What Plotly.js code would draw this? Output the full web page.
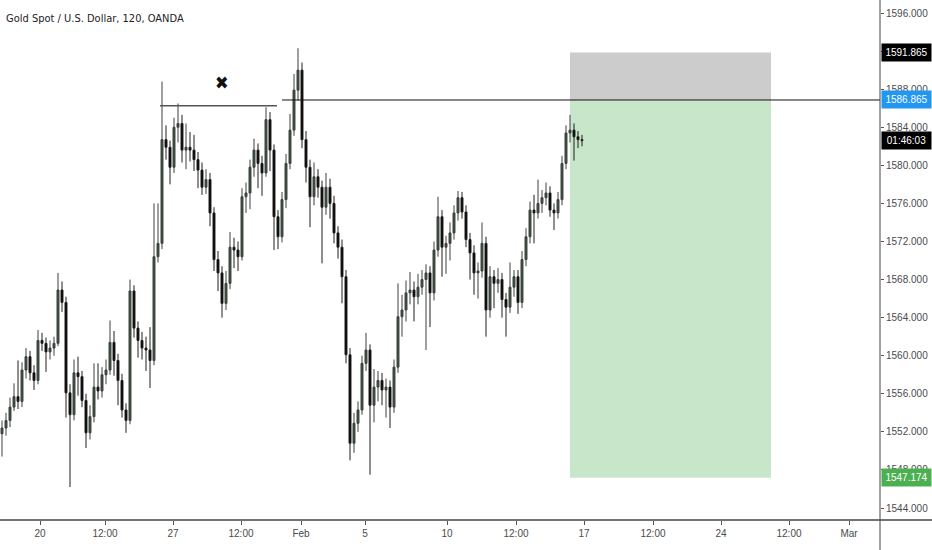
<!DOCTYPE html>
<html>
<head>
<meta charset="utf-8">
<script src="https://cdn.plot.ly/plotly-3.0.1.min.js"></script>
<style>
  body { margin: 0; background: #fff; }
  #chart { width: 932px; height: 550px; }
</style>
</head>
<body>
<div id="chart"></div>
<script>
// XAUUSD 120 min bars (one entry every ~4px)
var opens = [1551.8,1552.4,1553.2,1554.6,1555.7,1555.2,1558.5,1559.9,1558.2,1557.4,
  1561.6,1561.3,1560.4,1560.8,1561.3,1566.9,1565.6,1556.1,1553.8,1558.2,
  1557.8,1555.3,1551.9,1553.6,1556.7,1556.3,1558.0,1558.5,1561.4,1559.5,
  1557.4,1554.3,1553.2,1566.8,1562.9,1561.6,1560.8,1560.6,1559.5,1570.4,
  1571.8,1582.7,1581.9,1579.8,1584.0,1584.4,1581.6,1581.9,1581.6,1580.6,
  1579.5,1577.7,1578.5,1575.0,1570.1,1568.7,1565.5,1567.6,1571.4,1571.1,
  1570.4,1576.7,1577.1,1579.8,1581.6,1580.2,1579.2,1584.8,1581.6,1574.6,
  1572.5,1576.4,1580.2,1583.7,1587.9,1590.0,1582.7,1579.8,1576.7,1578.8,
  1577.7,1575.6,1577.7,1576.0,1572.9,1571.4,1568.3,1560.1,1550.8,1552.9,
  1554.3,1559.2,1560.6,1554.8,1556.7,1557.4,1556.4,1556.7,1554.6,1558.8,
  1564.1,1564.8,1566.6,1566.9,1566.2,1567.2,1568.0,1568.7,1566.6,1571.1,
  1574.6,1571.4,1571.8,1572.9,1575.0,1576.6,1575.1,1572.2,1570.8,1568.7,
  1568.9,1571.8,1564.8,1568.3,1567.6,1568.0,1565.9,1565.1,1567.2,1568.3,
  1565.6,1570.1,1572.5,1575.3,1575.0,1576.0,1576.6,1577.1,1575.3,1575.0,
  1576.4,1580.2,1583.4,1583.7,1583.0,1582.7];
var highs = [1553.2,1554.0,1555.6,1557.1,1559.5,1559.3,1560.8,1560.5,1559.0,1562.7,
  1562.4,1561.9,1561.6,1562.0,1568.7,1567.8,1566.2,1557.0,1559.6,1559.9,
  1558.4,1556.0,1554.8,1559.2,1559.2,1558.8,1559.6,1563.7,1562.6,1560.2,
  1558.1,1555.0,1568.0,1567.4,1563.6,1562.5,1562.0,1563.0,1576.0,1576.0,
  1588.8,1584.2,1582.6,1585.0,1586.5,1585.3,1584.4,1583.5,1583.2,1581.4,
  1580.3,1579.6,1579.2,1575.6,1571.0,1569.4,1568.9,1573.0,1572.4,1572.0,
  1577.6,1578.2,1580.6,1582.8,1582.3,1581.0,1586.1,1585.6,1582.2,1575.3,
  1577.2,1581.2,1585.4,1589.6,1592.3,1590.8,1583.6,1580.6,1580.3,1579.6,
  1578.4,1579.2,1578.6,1576.8,1573.6,1572.2,1569.0,1560.8,1554.0,1555.2,
  1560.0,1562.4,1561.2,1558.6,1558.4,1558.2,1557.6,1557.4,1559.6,1567.6,
  1566.4,1567.9,1568.8,1567.8,1568.6,1569.0,1569.6,1569.4,1572.0,1576.7,
  1575.3,1572.6,1574.0,1575.8,1577.3,1577.2,1575.8,1572.9,1571.6,1569.8,
  1574.0,1572.5,1569.4,1569.0,1569.2,1568.7,1566.6,1569.8,1569.0,1569.0,
  1571.0,1573.4,1576.2,1576.9,1578.5,1577.4,1578.2,1577.8,1576.0,1577.2,
  1581.0,1584.2,1585.3,1584.4,1583.6,1583.2];
var lows = [1549.4,1551.6,1552.5,1554.2,1554.4,1554.6,1557.6,1557.4,1556.4,1557.0,
  1560.5,1558.3,1559.6,1560.0,1561.0,1564.6,1553.5,1546.2,1553.2,1555.8,
  1554.6,1550.3,1551.2,1553.0,1555.4,1555.6,1557.0,1558.0,1557.9,1554.8,
  1553.5,1551.9,1552.8,1561.9,1559.8,1559.6,1558.4,1556.6,1559.0,1569.8,
  1571.2,1580.6,1578.0,1579.2,1582.4,1580.3,1579.6,1580.4,1579.4,1577.6,
  1576.9,1577.0,1573.6,1568.9,1566.8,1564.0,1564.8,1567.0,1569.2,1568.9,
  1570.0,1575.0,1575.4,1578.8,1577.6,1576.8,1578.8,1579.4,1571.1,1571.2,
  1571.9,1575.5,1579.6,1583.1,1586.8,1581.8,1578.2,1573.5,1575.8,1576.6,
  1569.7,1574.8,1574.4,1571.8,1570.2,1565.5,1559.2,1549.0,1549.8,1552.0,
  1553.8,1558.4,1547.5,1553.0,1555.2,1554.8,1553.5,1552.4,1554.0,1558.2,
  1562.0,1563.6,1565.4,1563.6,1565.4,1566.4,1560.6,1563.0,1565.8,1570.4,
  1568.3,1568.6,1570.0,1572.2,1574.2,1574.4,1571.4,1568.0,1566.4,1566.0,
  1568.2,1562.0,1564.0,1565.0,1566.6,1564.0,1562.0,1564.5,1566.2,1564.4,
  1565.0,1569.4,1571.8,1571.8,1574.4,1575.0,1575.8,1574.6,1573.2,1574.4,
  1575.8,1579.6,1582.4,1580.5,1581.8,1582.0];
var closes = [1552.4,1553.2,1554.6,1555.7,1555.2,1558.5,1559.9,1558.2,1557.4,1561.6,
  1561.3,1560.4,1560.8,1561.3,1566.9,1565.6,1556.1,1553.8,1558.2,1557.8,
  1555.3,1551.9,1553.6,1556.7,1556.3,1558.0,1558.5,1561.4,1559.5,1557.4,
  1554.3,1553.2,1566.8,1562.9,1561.6,1560.8,1560.6,1559.5,1570.4,1571.8,
  1582.7,1581.9,1579.8,1584.0,1584.4,1581.6,1581.9,1581.6,1580.6,1579.5,
  1577.7,1578.5,1575.0,1570.1,1568.7,1565.5,1567.6,1571.4,1571.1,1570.4,
  1576.7,1577.1,1579.8,1581.6,1580.2,1579.2,1584.8,1581.6,1574.6,1572.5,
  1576.4,1580.2,1583.7,1587.9,1590.0,1582.7,1579.8,1576.7,1578.8,1577.7,
  1575.6,1577.7,1576.0,1572.9,1571.4,1568.3,1560.1,1550.8,1552.9,1554.3,
  1559.2,1560.6,1554.8,1556.7,1557.4,1556.4,1556.7,1554.6,1558.8,1564.1,
  1564.8,1566.6,1566.9,1566.2,1567.2,1568.0,1568.7,1566.6,1571.1,1574.6,
  1571.4,1571.8,1572.9,1575.0,1576.6,1575.1,1572.2,1570.8,1568.7,1568.9,
  1571.8,1564.8,1568.3,1567.6,1568.0,1565.9,1565.1,1567.2,1568.3,1565.6,
  1570.1,1572.5,1575.3,1575.0,1576.0,1576.6,1577.1,1575.3,1575.0,1576.4,
  1580.2,1583.4,1583.7,1583.0,1582.7,1582.6];

// time axis labels (bar index where each label sits)
var tickText = ['20','12:00','27','12:00','Feb','5','10','12:00','17','12:00','24','12:00','Mar'];
var tickIdx = [9.5,25.75,42.75,59.75,74.75,90.75,111.25,128.5,145.5,162.75,179.75,196.75,211.75];

// price scale
var priceTicks = [1544,1548,1552,1556,1560,1564,1568,1572,1576,1580,1584,1588,1592,1596];

// short position tool + drawings
var entry = 1586.865;
var stop = 1591.865;
var target = 1547.174;
var toolStart = 142, toolEnd = 192.25;
var resistance = 1586.26;
var countdown = '01:46:03';

var fnt = '"DejaVu Sans Condensed", "Liberation Sans", sans-serif';
var axFnt = '"Liberation Sans", "DejaVu Sans Condensed", sans-serif';

var x = [];
for (var i = 0; i < closes.length; i++) x.push(i);

var candles = {
  type: 'candlestick',
  x: x, open: opens, high: highs, low: lows, close: closes,
  increasing: {line: {color: '#3f3f3f', width: 1}, fillcolor: '#2f5a35'},
  decreasing: {line: {color: '#1e1e1e', width: 1}, fillcolor: '#000000'},
  whiskerwidth: 0,
  hoverinfo: 'skip'
};

var lastClose = closes[closes.length - 1];

function priceBox(y, txt, bg) {
  return {xref: 'paper', yref: 'y', x: 1, y: y, xanchor: 'left', xshift: 1, showarrow: false,
    text: txt, bgcolor: bg, font: {family: axFnt, size: 10, color: '#fff'},
    width: 47, height: 15, align: 'center', borderpad: 1};
}

var layout = {
  width: 932,
  height: 550,
  margin: {l: 0, r: 52, t: 0, b: 30},
  paper_bgcolor: '#ffffff',
  plot_bgcolor: '#ffffff',
  showlegend: false,
  font: {family: axFnt, size: 10, color: '#4a4a4a'},
  xaxis: {
    range: [-0.5, 219.5],
    rangeslider: {visible: false},
    showgrid: false,
    zeroline: false,
    showline: false,
    tickmode: 'array',
    tickvals: tickIdx,
    ticktext: tickText,
    ticks: 'outside',
    ticklen: 4,
    tickcolor: '#555',
    tickfont: {family: axFnt, size: 10, color: '#4a4a4a'},
    fixedrange: true
  },
  yaxis: {
    side: 'right',
    range: [1542.74, 1597.37],
    showgrid: false,
    zeroline: false,
    showline: false,
    tickmode: 'array',
    tickvals: priceTicks,
    ticktext: priceTicks.map(function(v){ return v.toFixed(3); }),
    ticks: 'outside',
    ticklen: 3,
    tickcolor: '#555',
    tickfont: {family: axFnt, size: 10, color: '#4a4a4a'},
    fixedrange: true
  },
  shapes: [
    // stop zone and target zone
    {type: 'rect', xref: 'x', yref: 'y', x0: toolStart, x1: toolEnd, y0: entry, y1: stop,
     fillcolor: '#cccccc', line: {width: 0}, layer: 'below'},
    {type: 'rect', xref: 'x', yref: 'y', x0: toolStart, x1: toolEnd, y0: target, y1: entry,
     fillcolor: '#c8e6c9', line: {width: 0}, layer: 'below'},
    // entry ray
    {type: 'line', xref: 'x', yref: 'y', x0: 70, x1: 219.5, y0: entry, y1: entry,
     line: {color: '#111', width: 1}},
    // double top line
    {type: 'line', xref: 'x', yref: 'y', x0: 39.5, x1: 68.75, y0: resistance, y1: resistance,
     line: {color: '#555', width: 1.5}},
    // frame lines
    {type: 'line', xref: 'paper', yref: 'paper', x0: 0, x1: 932/880, y0: 0, y1: 0,
     line: {color: '#444', width: 1.5}},
    {type: 'line', xref: 'paper', yref: 'paper', x0: 1, x1: 1, y0: -30/520, y1: 1,
     line: {color: '#444', width: 1}}
  ],
  annotations: [
    {xref: 'paper', yref: 'paper', x: 0, y: 1, xanchor: 'left', yanchor: 'top',
     xshift: 4, yshift: -10, showarrow: false, text: 'Gold Spot / U.S. Dollar, 120, OANDA',
     font: {family: fnt, size: 11, color: '#222'}},
    {xref: 'x', yref: 'y', x: 55, y: 1588.65, showarrow: false, text: '✖',
     font: {size: 18, color: '#111'}},
    priceBox(stop, stop.toFixed(3), '#000000'),
    priceBox(entry, entry.toFixed(3), '#2196f3'),
    priceBox(lastClose, countdown, '#000000'),
    priceBox(target, target.toFixed(3), '#4caf50')
  ]
};

Plotly.newPlot('chart', [candles], layout, {displayModeBar: false, staticPlot: true});
</script>
</body>
</html>
